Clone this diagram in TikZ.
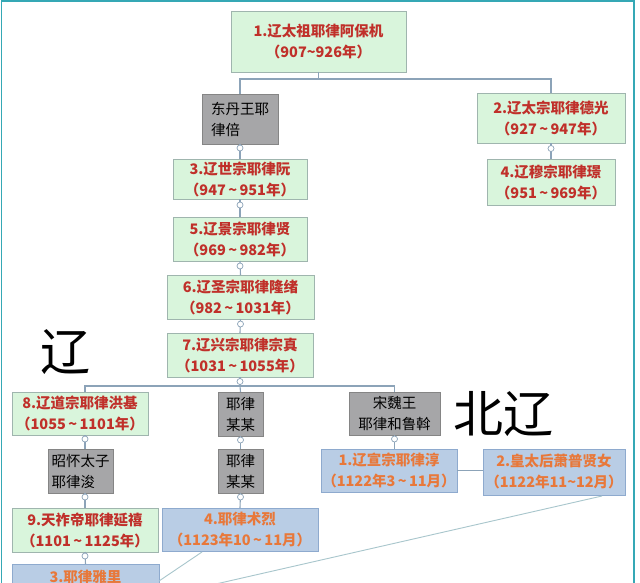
\documentclass[tikz,border=0pt]{standalone}
\usepackage{fontspec}
\setmainfont{Noto Sans CJK SC}
\usetikzlibrary{calc}
\definecolor{gfill}{HTML}{D9F5DC}
\definecolor{gline}{HTML}{9FB5AE}
\definecolor{redtxt}{HTML}{C0302A}
\definecolor{yfill}{HTML}{A6A6A8}
\definecolor{yline}{HTML}{858585}
\definecolor{bfill}{HTML}{B9CDE5}
\definecolor{bline}{HTML}{8EAACE}
\definecolor{orgtxt}{HTML}{E8783A}
\definecolor{conncol}{HTML}{8CA3B8}
\definecolor{diagcol}{HTML}{A8C6CC}
\definecolor{framecol}{HTML}{35A8B5}
\newcommand\tld{\textasciitilde}
\tikzset{
  boxbase/.style={inner sep=0pt, outer sep=0pt, line width=0.9pt, align=center,
    font=\fontsize{14.5}{21}\selectfont},
  gbox/.style={boxbase, draw=gline, fill=gfill, text=redtxt, font=\fontsize{14.5}{21}\selectfont\bfseries},
  ybox/.style={boxbase, draw=yline, fill=yfill, text=black},
  bbox/.style={boxbase, draw=bline, fill=bfill, text=orgtxt, font=\fontsize{14.5}{21}\selectfont\bfseries},
  conn/.style={draw=conncol, line width=1.1pt},
  diag/.style={draw=diagcol, line width=0.9pt},
  linkdot/.style={circle, draw=conncol, fill=white, line width=0.7pt, minimum size=6pt, inner sep=0pt},
  bigtxt/.style={inner sep=0pt, font=\fontsize{50}{50}\selectfont, text=black},
}
\begin{document}
\begin{tikzpicture}[x=1pt,y=-1pt]
\clip (0,0) rectangle (640,583);
\fill[white] (0,0) rectangle (640,583);
\draw[framecol, line width=1.6pt] (1.5,590) -- (1.5,1) -- (634,1) -- (634,590);

% nodes
\node[gbox, minimum width=175pt, minimum height=61pt] (n1) at (318.5,41.5) {1.辽太祖耶律阿保机\\（907\tld926年）};
\node[ybox, minimum width=76pt, minimum height=50pt, align=left] (dd) at (240,119) {东丹王耶\\律倍};
\node[gbox, minimum width=148pt, minimum height=50pt] (n2) at (551,118.5) {2.辽太宗耶律德光\\（927\,\tld\,947年）};
\node[gbox, minimum width=128pt, minimum height=46pt] (n4r) at (551,182) {4.辽穆宗耶律璟\\（951\,\tld\,969年）};
\node[gbox, minimum width=134pt, minimum height=40pt] (n3) at (240,179) {3.辽世宗耶律阮\\（947\,\tld\,951年）};
\node[gbox, minimum width=134pt, minimum height=44pt] (n5) at (240,239) {5.辽景宗耶律贤\\（969\,\tld\,982年）};
\node[gbox, minimum width=147pt, minimum height=44pt] (n6) at (240.5,297) {6.辽圣宗耶律隆绪\\（982\,\tld\,1031年）};
\node[gbox, minimum width=146pt, minimum height=44pt] (n7) at (240,355) {7.辽兴宗耶律宗真\\（1031\,\tld\,1055年）};
\node[gbox, minimum width=136pt, minimum height=43pt] (n8) at (80,413.5) {8.辽道宗耶律洪基\\（1055\,\tld\,1101年）};
\node[ybox, minimum width=45pt, minimum height=44pt] (mm1) at (240.5,414) {耶律\\某某};
\node[ybox, minimum width=91pt, minimum height=43pt] (sw) at (394.5,413.5) {宋魏王\\耶律和鲁斡};
\node[ybox, minimum width=65pt, minimum height=44pt, align=left] (zh) at (80.5,471) {昭怀太子\\耶律浚};
\node[ybox, minimum width=45pt, minimum height=44pt] (mm2) at (240.5,471) {耶律\\某某};
\node[bbox, minimum width=136pt, minimum height=43pt] (xz) at (389,470.5) {1.辽宣宗耶律淳\\（1122年3\,\tld\,11月）};
\node[bbox, minimum width=142pt, minimum height=46pt] (ht) at (554,472) {2.皇太后萧普贤女\\（1122年11\tld12月）};
\node[gbox, minimum width=146pt, minimum height=44pt] (n9) at (85,530) {9.天祚帝耶律延禧\\（1101\,\tld\,1125年）};
\node[bbox, minimum width=156pt, minimum height=43pt] (sl) at (240,529.5) {4.耶律术烈\\（1123年10\,\tld\,11月）};
\node[bbox, minimum width=147pt, minimum height=46pt] (yl) at (85.5,587) {};
\node[bbox, draw=none, fill=none] (ylt) at (85.5,577) {3.耶律雅里};

% big labels
\node[bigtxt] (liao) at (65,352) {辽};
\node[bigtxt] (beiliao) at (503,414) {北辽};

% diagonal connectors
\coordinate (e1) at (150,599);
\coordinate (e2) at (159,581);
\draw[diag] ($(ht.south east)+(-23,1)$) -- (e1);
\draw[diag] ($(sl.south west)+(40,1)$) -- (e2);

% tree connectors
\draw[conn] (n1.south) -- ++(0,7) coordinate (b1);
\draw[conn] (dd.north) |- (b1) -| (n2.north);
\draw[conn] (dd.south) -- (n3.north);
\draw[conn] (n2.south) -- (n4r.north);
\draw[conn] (n3.south) -- (n5.north);
\draw[conn] (n5.south) -- (n6.north);
\draw[conn] (n6.south) -- (n7.north);
\draw[conn] (n7.south) -- ++(0,9) coordinate (b7);
\draw[conn] (n9.north |- n8.north) |- (b7) -| (sw.north);
\draw[conn] (b7) -- (mm1.north);
\draw[conn] (n9.north |- n8.south) -- (n9.north |- zh.north);
\draw[conn] (n9.north |- zh.south) -- (n9.north);
\draw[conn] (n9.south) -- (yl.north);
\draw[conn] (mm1.south) -- (mm2.north);
\draw[conn] (mm2.south) -- (sl.north);
\draw[conn] (sw.south) -- (sw.south |- xz.north);
\draw[conn] (xz.east) -- (xz.east -| ht.west);

% link dots
\node[linkdot] (d1) at ($(dd.south)+(0,4)$) {};
\node[linkdot] (d2) at ($(n2.south)+(0,5)$) {};
\node[linkdot] (d3) at ($(n3.south)+(0,6)$) {};
\node[linkdot] (d4) at ($(n5.south)+(0,5)$) {};
\node[linkdot] (d5) at ($(n6.south)+(0,5)$) {};
\node[linkdot] (d6) at ($(n7.south)+(0,4.5)$) {};
\node[linkdot] (d7) at ($(n9.north |- n8.south)+(0,4)$) {};
\node[linkdot] (d8) at ($(mm1.south)+(0,4)$) {};
\node[linkdot] (d9) at ($(sw.south)+(0,4)$) {};
\node[linkdot] (d10) at ($(n9.north |- zh.south)+(0,4)$) {};
\node[linkdot] (d11) at ($(mm2.south)+(0,4)$) {};
\node[linkdot] (d12) at ($(n9.south)+(0,4)$) {};
\end{tikzpicture}
\end{document}
